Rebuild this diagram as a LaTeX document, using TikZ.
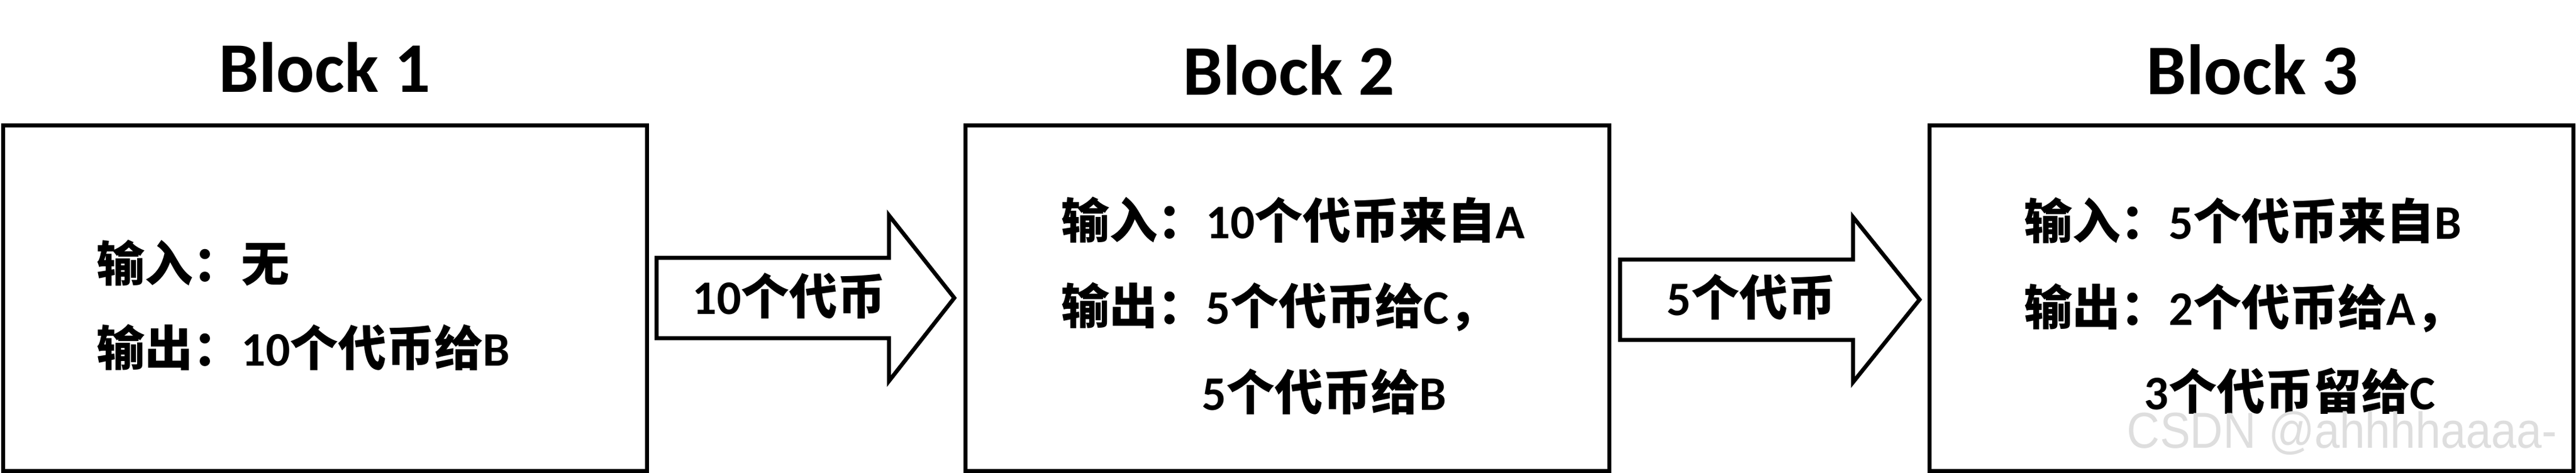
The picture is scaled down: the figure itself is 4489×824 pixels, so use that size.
\documentclass[tikz,border=0pt]{standalone}
\usepackage{fontspec}
\setmainfont{Carlito}
\newfontfamily\cjk{Noto Sans CJK SC}
\newfontfamily\wmfont{Liberation Sans}
\begin{document}
\begin{tikzpicture}[x=0.25pt,y=-0.25pt,
  box/.style={draw,line width=1.75pt,rectangle,inner sep=0pt,outer sep=0pt,minimum width=280.5pt,minimum height=150.5pt},
  title/.style={anchor=base,inner sep=0pt,font=\fontsize{31}{37}\selectfont\bfseries},
  body/.style={anchor=base west,inner sep=0pt,font=\fontsize{21}{25}\selectfont\bfseries},
  blockarrow/.style={draw,line width=1.75pt,line join=miter,fill=white},
  arrowlabel/.style={anchor=base,inner sep=0pt,font=\fontsize{21}{25}\selectfont\bfseries},
  wm/.style={anchor=base west,inner sep=0pt,text=black!13,font=\wmfont\fontsize{22}{26}\selectfont}
]
\useasboundingbox (0,0) rectangle (4489,824);

% boxes
\node[box] (b1) at (566,519) {};
\node[box] (b2) at (2243.5,519) {};
\node[box] (b3) at (3923.5,519) {};

% titles
\node[title] (t1) at (566,160) {Block 1};
\node[title] (t2) at (2246,165) {Block 2};
\node[title] (t3) at (3925,164) {Block 3};

% block arrows
\draw[blockarrow] (1144,449) -- (1549,449) -- (1549,375) -- (1663,519) -- (1549,664) -- (1549,589) -- (1144,589) -- cycle;
\draw[blockarrow] (2823,452) -- (3229,452) -- (3229,378) -- (3345,522) -- (3229,666) -- (3229,592) -- (2823,592) -- cycle;
\node[arrowlabel] (a1) at (1375,547) {10{\cjk 个代币}};
\node[arrowlabel] (a2) at (3052,549) {5{\cjk 个代币}};

% block 1 text
\node[body] (b1in)  at (168,490) {{\cjk 输入：无}};
\node[body] (b1out) at (168,637) {{\cjk 输出：}10{\cjk 个代币给}B};

% block 2 text
\node[body] (b2in)   at (1849,415) {{\cjk 输入：}10{\cjk 个代币来自}A};
\node[body] (b2out)  at (1849,564) {{\cjk 输出：}5{\cjk 个代币给}C{\cjk ，}};
\node[body] (b2out2) at (2094,714) {5{\cjk 个代币给}B};

% block 3 text
\node[body] (b3in)   at (3527,416) {{\cjk 输入：}5{\cjk 个代币来自}B};
\node[body] (b3out)  at (3527,566) {{\cjk 输出：}2{\cjk 个代币给}A{\cjk ，}};
\node[body] (b3out2) at (3736,713) {3{\cjk 个代币留给}C};

% watermark
\node[wm] (wm) at (3706,780) {\scalebox{0.9}[1]{CSDN @ahhhhaaaa-}};
\end{tikzpicture}
\end{document}
